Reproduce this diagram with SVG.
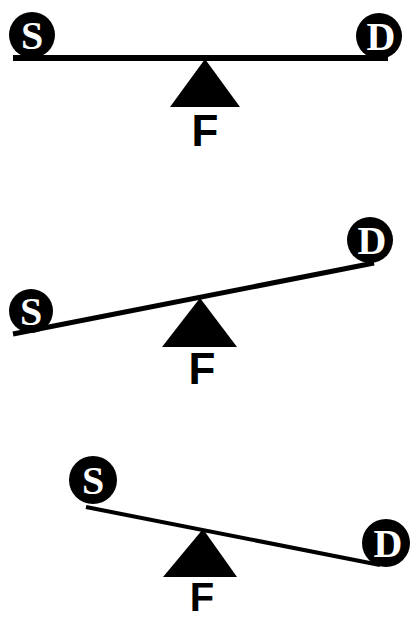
<svg xmlns="http://www.w3.org/2000/svg" width="411" height="620" viewBox="0 0 411 620">
<style>
.ball{fill:#000}
.bl{fill:#fff;font-family:"Liberation Serif",serif;font-weight:bold;font-size:40px;text-anchor:middle}
.beam{stroke:#000;stroke-linecap:butt;fill:none}
.ful{fill:#000}
.f{fill:#000;font-family:"Liberation Sans",sans-serif;font-weight:bold;font-size:44px;text-anchor:middle}
</style>
<rect width="411" height="620" fill="#fff"/>
<g id="connectors">
<line class="beam" x1="13" y1="58" x2="388" y2="58" stroke-width="6"/>
<line class="beam" x1="13" y1="334" x2="374" y2="263" stroke-width="5"/>
<line class="beam" x1="86" y1="507" x2="380" y2="565" stroke-width="4"/>
</g>
<g id="panel1">
<g id="S1"><circle class="ball" cx="32" cy="35" r="23"/><text class="bl" x="32" y="49">S</text></g>
<g id="D1"><circle class="ball" cx="379" cy="36" r="23"/><text class="bl" x="381" y="50">D</text></g>
<g id="F1"><polygon class="ful" points="205,59 170,107 240,107"/><text class="f" x="205" y="146">F</text></g>
</g>
<g id="panel2">
<g id="S2"><circle class="ball" cx="31" cy="311" r="22"/><text class="bl" x="31" y="325">S</text></g>
<g id="D2"><circle class="ball" cx="370" cy="240" r="23"/><text class="bl" x="372" y="254">D</text></g>
<g id="F2"><polygon class="ful" points="200,298 162,347 237,347"/><text class="f" x="202" y="384">F</text></g>
</g>
<g id="panel3">
<g id="S3"><circle class="ball" cx="93" cy="480" r="24"/><text class="bl" x="93" y="494">S</text></g>
<g id="D3"><circle class="ball" cx="386" cy="543" r="24"/><text class="bl" x="388" y="557">D</text></g>
<g id="F3"><polygon class="ful" points="203,529 163,577 237,577"/><text class="f" x="202" y="611" style="font-size:40px">F</text></g>
</g>
</svg>
